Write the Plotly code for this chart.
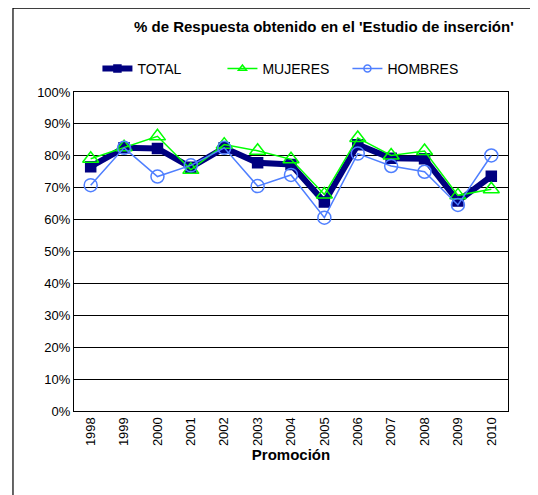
"""
Tasa de respuesta del estudio de insercion por promocion
"""
import plotly.graph_objects as go

years = ['1998', '1999', '2000', '2001', '2002', '2003', '2004',
         '2005', '2006', '2007', '2008', '2009', '2010']
total = [76.6, 82.5, 82.3, 76.4, 82.5, 77.8, 77.3, 65.5, 83.5, 79.2, 79.1, 65.8, 73.6]
mujeres = [79.1, 82.7, 86.1, 75.6, 83.5, 81.6, 78.9, 67.9, 85.6, 80.1, 81.5, 67.6, 69.5]
hombres = [70.8, 82.5, 73.5, 77.0, 82.5, 70.5, 74.0, 60.6, 80.7, 76.8, 75.0, 64.6, 80.1]
y_ticks = [0, 10, 20, 30, 40, 50, 60, 70, 80, 90, 100]

FONT = 'Liberation Sans, Arial, sans-serif'

series = [
    ('TOTAL', total, dict(color='#000080', width=6), 'square', 10, 7),
    ('MUJERES', mujeres, dict(color='#00FF00', width=1.5), 'triangle-up-open', 14, 7),
    ('HOMBRES', hombres, dict(color='#4F7FFF', width=1.5), 'circle-open', 13, 7),
]

fig = go.Figure()

# data traces (legend hidden, small legend markers come from dummy traces)
for name, vals, line, sym, msize, leg_size in series:
    fig.add_trace(go.Scatter(
        x=years, y=vals, name=name, mode='lines+markers',
        line=line, showlegend=False,
        marker=dict(symbol=sym, size=msize, color=line['color'],
                    line=dict(width=1.5, color=line['color']))
    ))

for name, vals, line, sym, msize, leg_size in series:
    fig.add_trace(go.Scatter(
        x=[None], y=[None], name=name, mode='lines+markers',
        line=line,
        marker=dict(symbol=sym, size=leg_size, color=line['color'],
                    line=dict(width=1.5, color=line['color']))
    ))

fig.update_layout(
    width=538, height=495,
    margin=dict(l=66, r=38, t=84, b=92),
    paper_bgcolor='white', plot_bgcolor='white',
    font=dict(family=FONT, size=13, color='black'),
    showlegend=True,
    legend=dict(orientation='h', x=0.054, y=1.022, xanchor='left', yanchor='bottom',
                font=dict(size=14), entrywidth=80,
                bgcolor='rgba(0,0,0,0)'),
    xaxis=dict(type='category', range=[-0.5, 12.5], tickangle=-90,
               showgrid=False, showline=True, linecolor='black', linewidth=1,
               mirror=True, ticks='', tickfont=dict(size=13),
               title=dict(text='<b>Promoción</b>', font=dict(size=15), standoff=0)),
    yaxis=dict(range=[0, 100], tickvals=y_ticks,
               ticktext=[f'{v}%' for v in y_ticks],
               showgrid=True, gridcolor='black', gridwidth=1,
               showline=True, linecolor='black', linewidth=1, mirror=True,
               ticks='', zeroline=False, tickfont=dict(size=13)),
    annotations=[dict(
        text="<b>% de Respuesta obtenido en el 'Estudio de inserción'</b>",
        xref='paper', yref='paper', x=0.576, y=1.204,
        xanchor='center', yanchor='middle', showarrow=False,
        font=dict(size=15, family=FONT)
    )],
    shapes=[dict(type='rect', xref='paper', yref='paper',
                 x0=-0.1406, x1=1.3, y0=-0.4, y1=1.263,
                 line=dict(color='black', width=1.2), layer='below')]
)

fig.write_html("out.html")
